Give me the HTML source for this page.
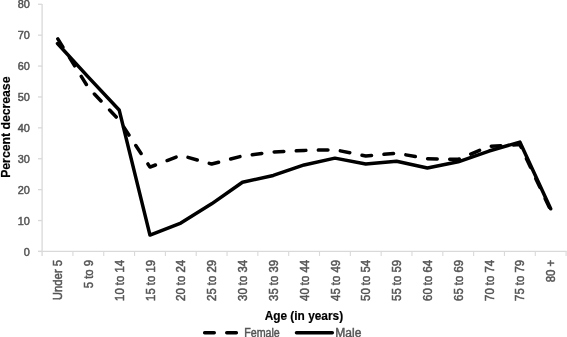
<!DOCTYPE html>
<html><head><meta charset="utf-8"><style>
html,body{margin:0;padding:0;background:#fff;width:567px;height:337px;overflow:hidden}
svg{display:block;will-change:transform}
.t{font-family:"Liberation Sans",sans-serif;font-size:12px;fill:#555;stroke:#555;stroke-width:0.45}
.ty{font-family:"Liberation Sans",sans-serif;font-size:11.5px;fill:#555;stroke:#555;stroke-width:0.5}
.tx{font-family:"Liberation Sans",sans-serif;font-size:12px;fill:#555;stroke:#555;stroke-width:0.5}
.b{font-family:"Liberation Sans",sans-serif;font-size:12.5px;font-weight:bold;fill:#000;stroke:#000;stroke-width:0.2}
</style></head><body>
<svg width="567" height="337" viewBox="0 0 567 337">
<line x1="42.1" y1="3.9699999999999998" x2="42.1" y2="255.94" stroke="#d9d9d9" stroke-width="1.3"/>
<line x1="38.0" y1="251.44" x2="566.7" y2="251.44" stroke="#d9d9d9" stroke-width="1.3"/>
<line x1="38.0" y1="251.44" x2="42.1" y2="251.44" stroke="#d9d9d9" stroke-width="1.3"/>
<line x1="38.0" y1="220.54" x2="42.1" y2="220.54" stroke="#d9d9d9" stroke-width="1.3"/>
<line x1="38.0" y1="189.65" x2="42.1" y2="189.65" stroke="#d9d9d9" stroke-width="1.3"/>
<line x1="38.0" y1="158.75" x2="42.1" y2="158.75" stroke="#d9d9d9" stroke-width="1.3"/>
<line x1="38.0" y1="127.86" x2="42.1" y2="127.86" stroke="#d9d9d9" stroke-width="1.3"/>
<line x1="38.0" y1="96.96" x2="42.1" y2="96.96" stroke="#d9d9d9" stroke-width="1.3"/>
<line x1="38.0" y1="66.06" x2="42.1" y2="66.06" stroke="#d9d9d9" stroke-width="1.3"/>
<line x1="38.0" y1="35.17" x2="42.1" y2="35.17" stroke="#d9d9d9" stroke-width="1.3"/>
<line x1="38.0" y1="4.27" x2="42.1" y2="4.27" stroke="#d9d9d9" stroke-width="1.3"/>
<line x1="72.92" y1="251.44" x2="72.92" y2="255.94" stroke="#d9d9d9" stroke-width="1.1"/>
<line x1="103.75" y1="251.44" x2="103.75" y2="255.94" stroke="#d9d9d9" stroke-width="1.1"/>
<line x1="134.57" y1="251.44" x2="134.57" y2="255.94" stroke="#d9d9d9" stroke-width="1.1"/>
<line x1="165.39" y1="251.44" x2="165.39" y2="255.94" stroke="#d9d9d9" stroke-width="1.1"/>
<line x1="196.22" y1="251.44" x2="196.22" y2="255.94" stroke="#d9d9d9" stroke-width="1.1"/>
<line x1="227.04" y1="251.44" x2="227.04" y2="255.94" stroke="#d9d9d9" stroke-width="1.1"/>
<line x1="257.86" y1="251.44" x2="257.86" y2="255.94" stroke="#d9d9d9" stroke-width="1.1"/>
<line x1="288.69" y1="251.44" x2="288.69" y2="255.94" stroke="#d9d9d9" stroke-width="1.1"/>
<line x1="319.51" y1="251.44" x2="319.51" y2="255.94" stroke="#d9d9d9" stroke-width="1.1"/>
<line x1="350.34" y1="251.44" x2="350.34" y2="255.94" stroke="#d9d9d9" stroke-width="1.1"/>
<line x1="381.16" y1="251.44" x2="381.16" y2="255.94" stroke="#d9d9d9" stroke-width="1.1"/>
<line x1="411.98" y1="251.44" x2="411.98" y2="255.94" stroke="#d9d9d9" stroke-width="1.1"/>
<line x1="442.81" y1="251.44" x2="442.81" y2="255.94" stroke="#d9d9d9" stroke-width="1.1"/>
<line x1="473.63" y1="251.44" x2="473.63" y2="255.94" stroke="#d9d9d9" stroke-width="1.1"/>
<line x1="504.45" y1="251.44" x2="504.45" y2="255.94" stroke="#d9d9d9" stroke-width="1.1"/>
<line x1="535.28" y1="251.44" x2="535.28" y2="255.94" stroke="#d9d9d9" stroke-width="1.1"/>
<line x1="566.10" y1="251.44" x2="566.10" y2="255.94" stroke="#d9d9d9" stroke-width="1.1"/>
<text transform="translate(29.9,255.64) scale(0.95,1)" text-anchor="end" class="ty">0</text>
<text transform="translate(29.9,224.74) scale(0.95,1)" text-anchor="end" class="ty">10</text>
<text transform="translate(29.9,193.85) scale(0.95,1)" text-anchor="end" class="ty">20</text>
<text transform="translate(29.9,162.95) scale(0.95,1)" text-anchor="end" class="ty">30</text>
<text transform="translate(29.9,132.06) scale(0.95,1)" text-anchor="end" class="ty">40</text>
<text transform="translate(29.9,101.16) scale(0.95,1)" text-anchor="end" class="ty">50</text>
<text transform="translate(29.9,70.26) scale(0.95,1)" text-anchor="end" class="ty">60</text>
<text transform="translate(29.9,39.37) scale(0.95,1)" text-anchor="end" class="ty">70</text>
<text transform="translate(29.9,8.47) scale(0.95,1)" text-anchor="end" class="ty">80</text>
<text transform="translate(62.11,259.8) rotate(-90) scale(0.95,1)" text-anchor="end" class="tx">Under 5</text>
<text transform="translate(92.94,259.8) rotate(-90) scale(0.95,1)" text-anchor="end" class="tx">5 to 9</text>
<text transform="translate(123.76,259.8) rotate(-90) scale(0.95,1)" text-anchor="end" class="tx">10 to 14</text>
<text transform="translate(154.58,259.8) rotate(-90) scale(0.95,1)" text-anchor="end" class="tx">15 to 19</text>
<text transform="translate(185.41,259.8) rotate(-90) scale(0.95,1)" text-anchor="end" class="tx">20 to 24</text>
<text transform="translate(216.23,259.8) rotate(-90) scale(0.95,1)" text-anchor="end" class="tx">25 to 29</text>
<text transform="translate(247.05,259.8) rotate(-90) scale(0.95,1)" text-anchor="end" class="tx">30 to 34</text>
<text transform="translate(277.88,259.8) rotate(-90) scale(0.95,1)" text-anchor="end" class="tx">35 to 39</text>
<text transform="translate(308.70,259.8) rotate(-90) scale(0.95,1)" text-anchor="end" class="tx">40 to 44</text>
<text transform="translate(339.52,259.8) rotate(-90) scale(0.95,1)" text-anchor="end" class="tx">45 to 49</text>
<text transform="translate(370.35,259.8) rotate(-90) scale(0.95,1)" text-anchor="end" class="tx">50 to 54</text>
<text transform="translate(401.17,259.8) rotate(-90) scale(0.95,1)" text-anchor="end" class="tx">55 to 59</text>
<text transform="translate(431.99,259.8) rotate(-90) scale(0.95,1)" text-anchor="end" class="tx">60 to 64</text>
<text transform="translate(462.82,259.8) rotate(-90) scale(0.95,1)" text-anchor="end" class="tx">65 to 69</text>
<text transform="translate(493.64,259.8) rotate(-90) scale(0.95,1)" text-anchor="end" class="tx">70 to 74</text>
<text transform="translate(524.46,259.8) rotate(-90) scale(0.95,1)" text-anchor="end" class="tx">75 to 79</text>
<text transform="translate(555.29,259.8) rotate(-90) scale(0.95,1)" text-anchor="end" class="tx">80 +</text>
<polyline points="57.51,43.51 88.34,77.19 119.16,109.94 149.98,235.06 180.81,223.02 211.63,203.86 242.45,182.23 273.28,175.44 304.10,164.93 334.92,158.13 365.75,164.00 396.57,161.22 427.39,168.02 458.22,161.84 489.04,151.03 519.86,142.07 550.69,208.80" fill="none" stroke="#000" stroke-width="3.5" stroke-linejoin="round" stroke-linecap="round"/>
<polyline points="57.51,38.41 88.34,87.69 119.16,120.13 149.98,167.09 180.81,155.35 211.63,164.00 242.45,155.97 273.28,151.95 304.10,150.41 334.92,149.79 365.75,155.97 396.57,153.19 427.39,158.75 458.22,159.37 489.04,146.39 519.86,144.54 550.69,210.35" fill="none" stroke="#000" stroke-width="3.5" stroke-linejoin="round" stroke-linecap="round" stroke-dasharray="9.6 12.5" stroke-dashoffset="-0.6"/>
<text transform="translate(10.3,127.2) rotate(-90)" text-anchor="middle" class="b" style="font-size:13px" textLength="101.3" lengthAdjust="spacingAndGlyphs">Percent decrease</text>
<text x="303.9" y="320.0" text-anchor="middle" class="b" textLength="78.5" lengthAdjust="spacingAndGlyphs">Age (in years)</text>
<line x1="204.65" y1="332.7" x2="236.45" y2="332.7" stroke="#000" stroke-width="3.5" stroke-linecap="round" stroke-dasharray="9.6 12.5"/>
<text x="244.2" y="337.3" class="t" textLength="35.6" lengthAdjust="spacingAndGlyphs">Female</text>
<line x1="296.5" y1="332.7" x2="332.3" y2="332.7" stroke="#000" stroke-width="3.5" stroke-linecap="round"/>
<text x="335.3" y="337.3" class="t">Male</text>
</svg>
</body></html>
